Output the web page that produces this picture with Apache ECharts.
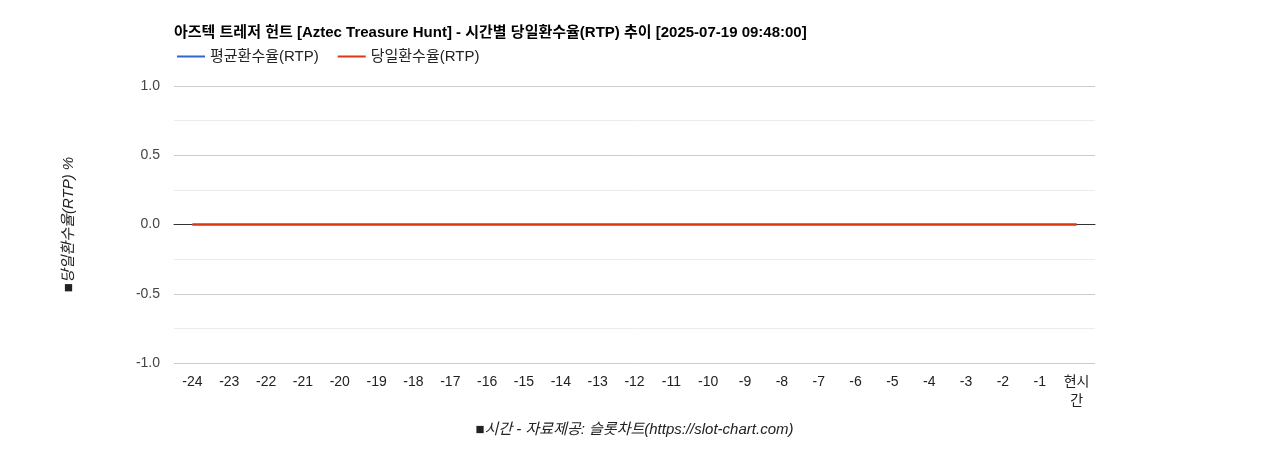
<!DOCTYPE html>
<html><head><meta charset="utf-8">
<script src="https://cdn.jsdelivr.net/npm/echarts@6/dist/echarts.min.js"></script>
<style>html,body{margin:0;padding:0;background:#fff}#c{width:1268px;height:450px}</style>
</head><body><div id="c"></div>
<script>
const categories = ['-24','-23','-22','-21','-20','-19','-18','-17','-16','-15','-14','-13','-12','-11','-10','-9','-8','-7','-6','-5','-4','-3','-2','-1','현시간'];
const avgRtp = [0,0,0,0,0,0,0,0,0,0,0,0,0,0,0,0,0,0,0,0,0,0,0,0,0];
const dayRtp = [0,0,0,0,0,0,0,0,0,0,0,0,0,0,0,0,0,0,0,0,0,0,0,0,0];
const titleText = '아즈텍 트레저 헌트 [Aztec Treasure Hunt] - 시간별 당일환수율(RTP) 추이 [2025-07-19 09:48:00]';
const FF = 'Liberation Sans, Arial, "Noto Sans CJK KR", sans-serif';
const chart = echarts.init(document.getElementById('c'));
chart.setOption({
  animation: false,
  textStyle: {fontFamily: FF},
  title: {text: titleText, left: 169, top: 20, textStyle: {fontSize: 15, fontWeight: 'bold', color: '#000', fontFamily: FF}},
  legend: {left: 172, top: 44, icon: 'rect', itemWidth: 28, itemHeight: 2, itemGap: 19,
    textStyle: {fontSize: 15, color: '#222', fontFamily: FF},
    data: ['평균환수율(RTP)', '당일환수율(RTP)']},
  grid: {left: 174, right: 173, top: 86, bottom: 87, containLabel: false},
  xAxis: {type: 'category', data: categories, boundaryGap: true,
    axisLine: {show: true, onZero: true, lineStyle: {color: '#333', width: 1}},
    axisTick: {show: false},
    axisLabel: {fontSize: 14, color: '#222', margin: 10, interval: 0, lineHeight: 19,
      formatter: v => v === '현시간' ? '현시\n간' : v},
    name: '■시간 - 자료제공: 슬롯차트(https://slot-chart.com)', nameLocation: 'middle', nameGap: 59,
    nameTextStyle: {fontSize: 15, fontStyle: 'italic', color: '#222', fontFamily: FF}},
  yAxis: {type: 'value', min: -1, max: 1, interval: 0.5,
    axisLine: {show: false}, axisTick: {show: false},
    axisLabel: {fontSize: 14, color: '#444', margin: 14, formatter: v => v.toFixed(1)},
    splitLine: {show: true, lineStyle: {color: '#cccccc'}},
    minorTick: {show: false, splitNumber: 2},
    minorSplitLine: {show: true, lineStyle: {color: '#ebebeb'}},
    name: '■당일환수율(RTP) %', nameLocation: 'middle', nameGap: 98, nameRotate: 90,
    nameTextStyle: {fontSize: 15, fontStyle: 'italic', color: '#222', fontFamily: FF}},
  series: [
    {name: '평균환수율(RTP)', type: 'line', data: avgRtp, symbol: 'none', lineStyle: {color: '#3366cc', width: 2}, itemStyle: {color: '#3366cc'}, z: 2},
    {name: '당일환수율(RTP)', type: 'line', data: dayRtp, symbol: 'none', lineStyle: {color: '#dc3912', width: 2}, itemStyle: {color: '#dc3912'}, z: 3}
  ]
});
</script></body></html>
